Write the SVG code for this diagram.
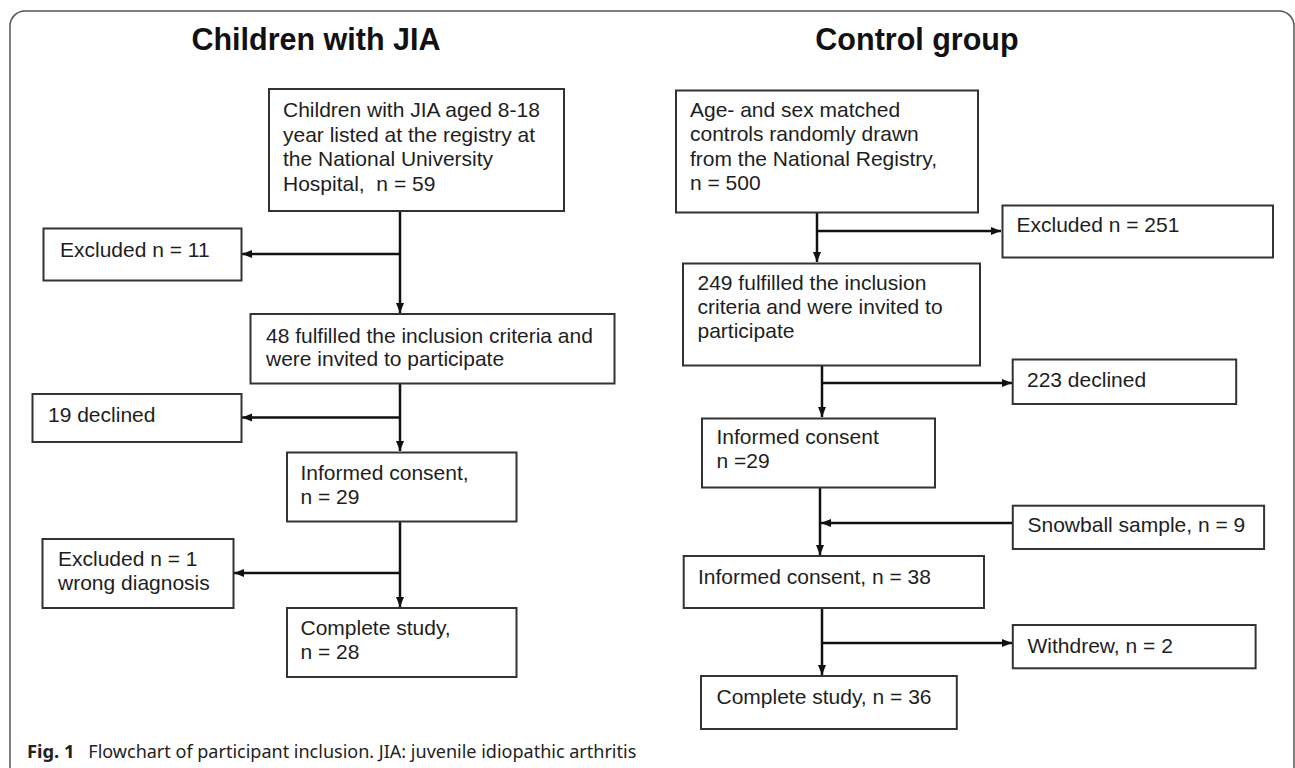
<svg xmlns="http://www.w3.org/2000/svg" width="1295" height="768" viewBox="0 0 1295 768">
<style>
.box{fill:#fff;stroke:#333;stroke-width:2}
.t{font-family:"Liberation Sans",Arial,sans-serif;font-size:21px;fill:#1e1e1e}
.title{font-family:"Liberation Sans",Arial,sans-serif;font-size:30.5px;font-weight:bold;fill:#111;text-anchor:middle}
.cap{font-family:"Noto Sans","Liberation Sans",sans-serif;font-size:18px;fill:#222}
.c{fill:none;stroke:#111;stroke-width:2.5}
</style>
<defs>
<marker id="arr" viewBox="0 0 10 8" refX="10" refY="4" markerUnits="userSpaceOnUse" markerWidth="10" markerHeight="9" orient="auto">
<path d="M0,0 L10,4 L0,8 Z" fill="#111"/>
</marker>
</defs>
<rect width="1295" height="768" fill="#fff"/>
<path d="M10,768 V26 A15,15 0 0 1 25,11 H1279 A15,15 0 0 1 1294,26 V768" fill="none" stroke="#555" stroke-width="1.5"/>
<text class="title" x="316" y="50">Children with JIA</text>
<text class="title" x="917" y="50">Control group</text>
<g id="connectors">
<path class="c" d="M400,211 V313" marker-end="url(#arr)"/>
<path class="c" d="M400,254 H242" marker-end="url(#arr)"/>
<path class="c" d="M400,383 V451" marker-end="url(#arr)"/>
<path class="c" d="M400,417.5 H242" marker-end="url(#arr)"/>
<path class="c" d="M400,522 V607" marker-end="url(#arr)"/>
<path class="c" d="M400,573 H234" marker-end="url(#arr)"/>
<path class="c" d="M817,213 V262" marker-end="url(#arr)"/>
<path class="c" d="M817,231 H1001" marker-end="url(#arr)"/>
<path class="c" d="M822,366 V417" marker-end="url(#arr)"/>
<path class="c" d="M822,383 H1012" marker-end="url(#arr)"/>
<path class="c" d="M820,487 V555" marker-end="url(#arr)"/>
<path class="c" d="M1012,523 H821" marker-end="url(#arr)"/>
<path class="c" d="M822,608 V675" marker-end="url(#arr)"/>
<path class="c" d="M822,643 H1012" marker-end="url(#arr)"/>
</g>
<g id="jia-start">
<rect class="box" x="269" y="89" width="295" height="122"/>
<text class="t" x="283" y="117"><tspan x="283">Children with JIA aged 8-18</tspan><tspan x="283" dy="24.5">year listed at the registry at</tspan><tspan x="283" dy="24.5">the National University</tspan><tspan x="283" dy="24.5" xml:space="preserve">Hospital,  n = 59</tspan></text>
</g>
<g id="jia-excluded11">
<rect class="box" x="43.5" y="228.5" width="198" height="52"/>
<text class="t" x="60" y="257">Excluded n = 11</text>
</g>
<g id="jia-invited">
<rect class="box" x="250.5" y="314" width="364" height="69.5"/>
<text class="t" x="266" y="343"><tspan x="266">48 fulfilled the inclusion criteria and</tspan><tspan x="266" dy="22.5">were invited to participate</tspan></text>
</g>
<g id="jia-declined">
<rect class="box" x="32.5" y="394" width="209" height="48"/>
<text class="t" x="48" y="422">19 declined</text>
</g>
<g id="jia-consent">
<rect class="box" x="287" y="452.5" width="229.5" height="69"/>
<text class="t" x="300.5" y="480"><tspan x="300.5">Informed consent,</tspan><tspan x="300.5" dy="24">n = 29</tspan></text>
</g>
<g id="jia-excluded1">
<rect class="box" x="42.5" y="539" width="191" height="69"/>
<text class="t" x="58" y="566"><tspan x="58">Excluded n = 1</tspan><tspan x="58" dy="24">wrong diagnosis</tspan></text>
</g>
<g id="jia-complete">
<rect class="box" x="287" y="608" width="229.5" height="69"/>
<text class="t" x="300.5" y="635"><tspan x="300.5">Complete study,</tspan><tspan x="300.5" dy="23.5">n = 28</tspan></text>
</g>
<g id="ctrl-start">
<rect class="box" x="676" y="90.5" width="302" height="122"/>
<text class="t" x="690" y="117"><tspan x="690">Age- and sex matched</tspan><tspan x="690" dy="24.3">controls randomly drawn</tspan><tspan x="690" dy="24.3">from the National Registry,</tspan><tspan x="690" dy="24.3">n = 500</tspan></text>
</g>
<g id="ctrl-excluded">
<rect class="box" x="1002.5" y="205.5" width="270.5" height="52"/>
<text class="t" x="1016.5" y="232">Excluded n = 251</text>
</g>
<g id="ctrl-invited">
<rect class="box" x="683" y="263.5" width="297" height="102"/>
<text class="t" x="697.5" y="290"><tspan x="697.5">249 fulfilled the inclusion</tspan><tspan x="697.5" dy="24">criteria and were invited to</tspan><tspan x="697.5" dy="24">participate</tspan></text>
</g>
<g id="ctrl-declined">
<rect class="box" x="1012.7" y="359.5" width="223.5" height="44.5"/>
<text class="t" x="1027" y="387">223 declined</text>
</g>
<g id="ctrl-consent29">
<rect class="box" x="702" y="418.5" width="233" height="69"/>
<text class="t" x="716.5" y="444"><tspan x="716.5">Informed consent</tspan><tspan x="716.5" dy="24.3">n =29</tspan></text>
</g>
<g id="ctrl-snowball">
<rect class="box" x="1012.8" y="505.7" width="251.3" height="43.3"/>
<text class="t" x="1027.5" y="532">Snowball sample, n = 9</text>
</g>
<g id="ctrl-consent38">
<rect class="box" x="683.7" y="556" width="300.3" height="52"/>
<text class="t" x="698" y="583.5">Informed consent, n = 38</text>
</g>
<g id="ctrl-withdrew">
<rect class="box" x="1012.8" y="625" width="242.8" height="43.3"/>
<text class="t" x="1027.5" y="653">Withdrew, n = 2</text>
</g>
<g id="ctrl-complete">
<rect class="box" x="701" y="676" width="255.8" height="53"/>
<text class="t" x="716.5" y="704">Complete study, n = 36</text>
</g>
<text class="cap" x="27" y="758" font-weight="bold" textLength="47.5" lengthAdjust="spacingAndGlyphs">Fig. 1</text>
<text class="cap" x="88.3" y="758" textLength="548" lengthAdjust="spacingAndGlyphs">Flowchart of participant inclusion. JIA: juvenile idiopathic arthritis</text>
</svg>
